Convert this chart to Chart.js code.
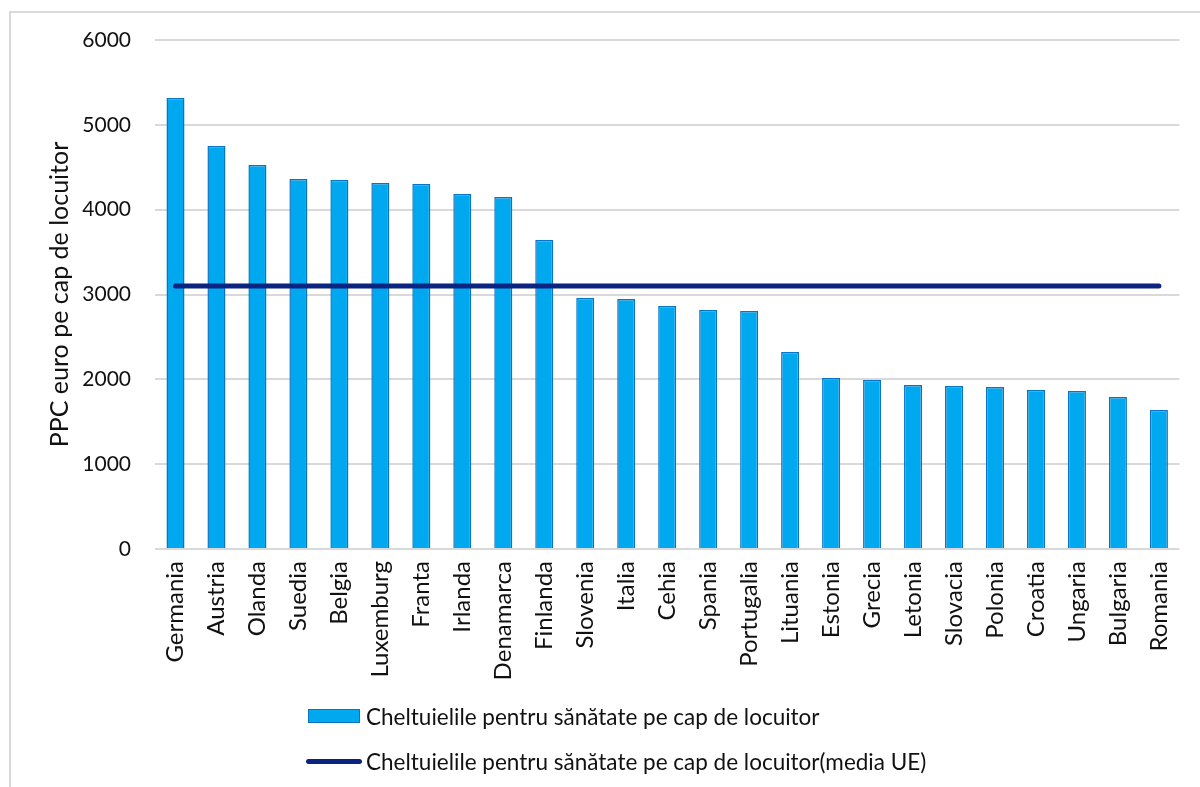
<!DOCTYPE html>
<html>
<head>
<meta charset="utf-8">
<script src="https://cdn.jsdelivr.net/npm/chart.js@4/dist/chart.umd.min.js"></script>
<style>
  html, body { margin: 0; padding: 0; background: #fff; overflow: hidden; }
  body { width: 1200px; height: 787px; position: relative; font-family: Lato, "Open Sans", sans-serif; }
  #frame { position: absolute; left: 9px; top: 11px; width: 1220px; height: 800px;
           border: 2px solid #d9d9d9; box-sizing: border-box; }
  #wrap { position: absolute; left: 0; top: 0; width: 1200px; height: 690px; }
  #legend { position: absolute; left: 0; top: 0; width: 1200px; height: 787px; pointer-events: none; }
  .item { position: absolute; left: 306px; height: 26px; display: flex; align-items: center;
          font-size: 22.5px; color: #111; white-space: nowrap; }
  .swatch-bar { width: 50px; height: 12px; margin: 0 6px 0 2px; }
  .swatch-line { width: 56px; height: 5px; border-radius: 3px; margin-right: 4px; }
</style>
</head>
<body>
<div id="frame"></div>
<div id="wrap"><canvas id="c"></canvas></div>
<div id="legend"></div>
<script>
// Health spending per inhabitant, PPS euro
const countries = ['Germania', 'Austria', 'Olanda', 'Suedia', 'Belgia', 'Luxemburg', 'Franta',
  'Irlanda', 'Denamarca', 'Finlanda', 'Slovenia', 'Italia', 'Cehia', 'Spania', 'Portugalia',
  'Lituania', 'Estonia', 'Grecia', 'Letonia', 'Slovacia', 'Polonia', 'Croatia', 'Ungaria',
  'Bulgaria', 'Romania'];

const spending = [5316, 4751, 4527, 4362, 4350, 4315, 4303, 4185, 4150, 3643, 2959, 2947,
  2865, 2817, 2806, 2322, 2016, 1992, 1933, 1921, 1910, 1874, 1863, 1792, 1639];

// EU average, one value per country so the line spans the whole axis
const euAverage = [3100, 3100, 3100, 3100, 3100, 3100, 3100, 3100, 3100, 3100, 3100, 3100,
  3100, 3100, 3100, 3100, 3100, 3100, 3100, 3100, 3100, 3100, 3100, 3100, 3100];

const yTicks = [0, 1000, 2000, 3000, 4000, 5000, 6000];

const barLabel = 'Cheltuielile pentru sănătate pe cap de locuitor';
const lineLabel = 'Cheltuielile pentru sănătate pe cap de locuitor(media UE)';
const yTitle = 'PPC euro pe cap de locuitor';

const BAR_FILL = '#00A9EF';
const BAR_EDGE = '#0A74C4';
const LINE_COLOR = '#0B2481';
const FONT = 'Lato, "Open Sans", sans-serif';

const canvas = document.getElementById('c');
canvas.width = 1200; canvas.height = 690;

new Chart(canvas, {
  data: {
    labels: countries,
    datasets: [
      {
        type: 'line', label: lineLabel, data: euAverage, order: 0,
        borderColor: LINE_COLOR, borderWidth: 5, borderCapStyle: 'round',
        pointRadius: 0, fill: false, tension: 0
      },
      {
        type: 'bar', label: barLabel, data: spending, order: 1,
        backgroundColor: BAR_FILL, borderColor: BAR_EDGE, borderWidth: 1.5,
        categoryPercentage: 1, barPercentage: 0.44
      }
    ]
  },
  options: {
    responsive: false, animation: false, devicePixelRatio: 1,
    layout: { padding: { left: 0, right: 15, top: 40, bottom: 0 } },
    plugins: { legend: { display: false }, tooltip: { enabled: false } },
    scales: {
      x: {
        grid: { display: false, drawTicks: false },
        border: { display: false },
        ticks: {
          color: '#111', font: { family: FONT, size: 24 },
          minRotation: 90, maxRotation: 90, padding: 12, autoSkip: false
        },
        afterFit(scale) { scale.height = 690 - 549; }
      },
      y: {
        min: 0, max: 6000,
        afterBuildTicks(scale) { scale.ticks = yTicks.map(v => ({ value: v })); },
        grid: { color: '#d9d9d9', lineWidth: 2, drawTicks: false },
        border: { display: false },
        ticks: {
          color: '#111', font: { family: FONT, size: 21 }, padding: 24,
          callback: v => String(v)
        },
        title: {
          display: true, text: yTitle, color: '#111',
          font: { family: FONT, size: 25 }, padding: { top: 45, bottom: 0 }
        },
        afterFit(scale) { scale.width = 155; }
      }
    }
  }
});

// Legend, stacked vertically under the plot
const legend = document.getElementById('legend');
[
  { label: barLabel, kind: 'bar', top: 703 },
  { label: lineLabel, kind: 'line', top: 748 }
].forEach(entry => {
  const row = document.createElement('div');
  row.className = 'item';
  row.style.top = entry.top + 'px';
  const sw = document.createElement('span');
  if (entry.kind === 'bar') {
    sw.className = 'swatch-bar';
    sw.style.background = BAR_FILL;
    sw.style.border = '1.5px solid ' + BAR_EDGE;
  } else {
    sw.className = 'swatch-line';
    sw.style.background = LINE_COLOR;
  }
  row.appendChild(sw);
  const txt = document.createElement('span');
  txt.textContent = entry.label;
  row.appendChild(txt);
  legend.appendChild(row);
});
</script>
</body>
</html>
